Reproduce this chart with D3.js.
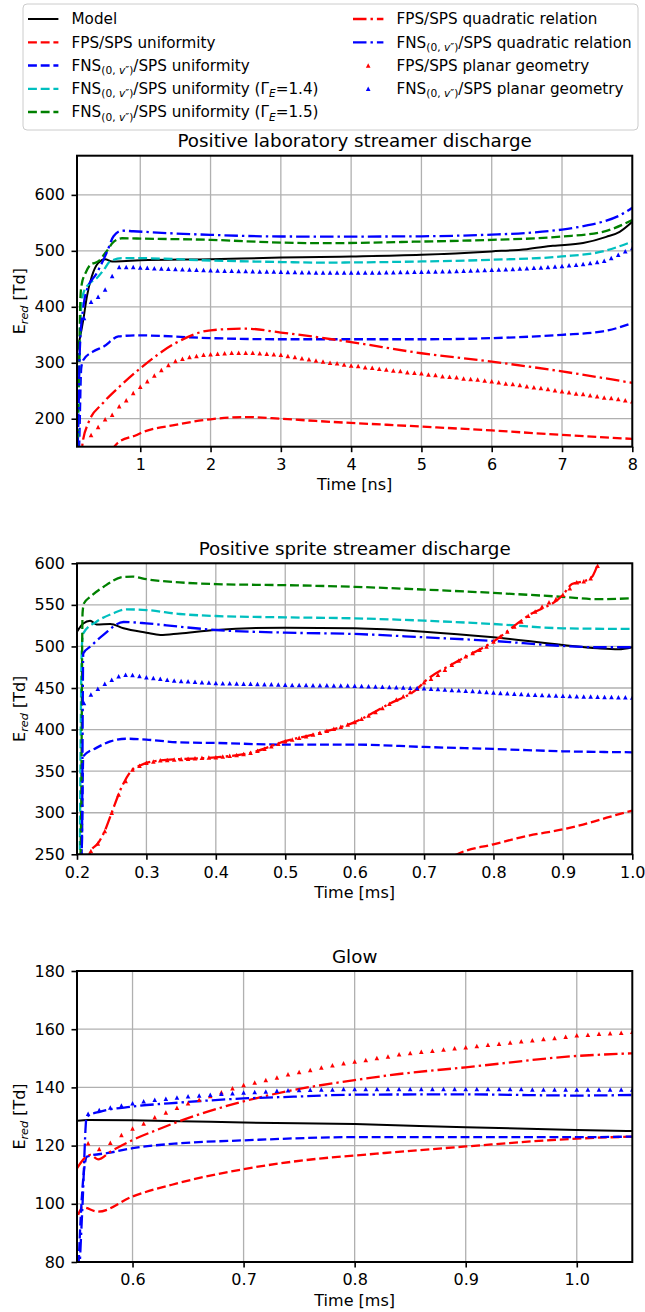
<!DOCTYPE html>
<html><head><meta charset="utf-8">
<script src="https://cdn.jsdelivr.net/npm/d3@7/dist/d3.min.js"></script>
<style>
body{margin:0;background:#fff}
svg{display:block}
text{font-family:"DejaVu Sans",sans-serif;white-space:pre}
</style>
</head><body>
<svg id="c" width="645" height="1312"></svg>
<script>
// ---------------- DATA ----------------
// Panel 1: Positive laboratory streamer discharge (time in ns, E_red in Td)
const lab_model = [[0.10,318],[0.15,350],[0.19,377],[0.24,418],[0.31,454],[0.40,478],[0.50,485],[0.60,481],[0.80,482],[1.0,483],[2.0,485],[3.0,488],[3.56,489],[4.0,490],[5.0,493],[6.0,499],[6.5,503],[6.87,509],[7.3,514],[7.63,525],[7.82,534],[8.0,552]];
const lab_fps_unif = [[0.60,145],[0.68,157],[0.95,171],[1.0,174],[1.5,189],[2.0,199],[2.5,203],[3.0,200],[3.5,196],[5.0,186],[6.0,179],[7.0,171],[8.0,164]];
const lab_fns_unif = [[0.10,100],[0.13,150],[0.16,290],[0.19,305],[0.33,320],[0.48,329],[0.69,347],[0.95,349],[2.0,344],[3.0,342],[5.0,342],[6.0,344],[7.0,350],[7.58,356],[8.0,371]];
const lab_g14 = [[0.11,120],[0.14,330],[0.16,400],[0.19,424],[0.29,443],[0.38,451],[0.48,466],[0.57,481],[0.74,487],[0.95,487],[2.0,482.7],[3.0,480],[3.56,479],[5.0,481],[6.0,484],[7.0,490],[7.58,499],[8.0,516.6]];
const lab_g15 = [[0.10,120],[0.13,300],[0.15,420],[0.17,442],[0.22,460],[0.29,475],[0.40,481],[0.52,499],[0.62,516],[0.74,522.5],[0.95,522],[2.0,519.6],[3.0,514.8],[3.56,513.7],[5.0,516.6],[6.0,519.6],[7.0,525.5],[7.58,534],[8.0,555]];
const lab_fps_quad = [[0.15,120],[0.18,157],[0.26,192],[0.47,228],[0.71,258],[1.0,290],[1.5,335],[2.0,358],[2.5,361],[3.0,354],[3.56,345],[4.0,337],[5.0,317],[6.0,302],[7.0,284.5],[8.0,264]];
const lab_fns_quad = [[0.10,100],[0.12,200],[0.14,323],[0.19,400],[0.24,430],[0.38,460],[0.52,496],[0.62,526],[0.74,536],[0.9,535],[1.5,531],[2.0,528.6],[3.0,525.6],[4.0,525.5],[5.0,526],[6.0,529],[6.5,532],[7.0,538],[7.3,544],[7.58,552],[7.8,562],[8.0,577]];
const lab_fps_planar_t0 = 0.3, lab_fps_planar_dt = 0.1;
const lab_fps_planar = [171,185,199,207,222,233,246,
 257,267,277,287,296,303,307,310,312,314,
 315,316,317,318,318,318,318,317,316,315,
 314,312,310,308,306,304,302,300,299,297,
 295,294,292,291,289,288,286,285,283,282,
 281,279,278,276,275,274,272,271,270,268,
 267,265,263,262,260,258,256,255,253,251,
 249,247,245,244,242,240,238,237,235,233,
 231];
const lab_fns_planar_t0 = 0.2, lab_fns_planar_dt = 0.1;
const lab_fns_planar = [380,409,418,431,455,471,471,471,
 470,469.5,469,468.5,468,467.5,467,466.5,466,465.5,
 465,464.8,464.5,464.3,464,463.8,463.5,463.2,463,462.8,
 462.5,462.3,462,461.8,461.5,461.3,461.2,461,461,461,
 461,461,461,461.2,461.4,461.6,461.8,462,462.2,462.4,
 462.5,462.8,463,463.3,463.6,464,464.3,464.7,465,465.5,
 466,466.5,467,467.6,468.2,468.9,469.6,470.3,471,472,
 473,474,475,476.5,478,480,482,487,493,499,
 505];

// Panel 2: Positive sprite streamer discharge (time in ms)
const spr_model = [[0.2,517.8],[0.209,527.7],[0.219,531],[0.228,526.5],[0.248,527],[0.267,521.8],[0.3,516.5],[0.32,513.8],[0.348,515.7],[0.4,519.8],[0.5,522.6],[0.6,521.8],[0.7,517.8],[0.8,511],[0.9,501.8],[0.95,497.8],[0.98,496.6],[1.0,499]];
const spr_fps_unif = [[0.745,249],[0.75,251],[0.8,262],[0.848,272],[0.9,280],[0.939,288],[0.963,294],[1.0,302.7]];
const spr_fns_unif = [[0.203,200],[0.207,260],[0.209,367.9],[0.228,378],[0.248,385.8],[0.271,389],[0.3,387.9],[0.348,384.6],[0.4,383.9],[0.5,381.9],[0.6,381.9],[0.7,379.1],[0.8,376.7],[0.9,373.9],[1.0,372.7]];
const spr_g14 = [[0.204,240],[0.207,500],[0.209,515.8],[0.228,529.7],[0.252,539.8],[0.271,544.6],[0.3,543.8],[0.348,539],[0.4,536.6],[0.5,535],[0.6,533.8],[0.7,531],[0.8,527],[0.9,521.8],[1.0,521]];
const spr_g15 = [[0.203,200],[0.206,300],[0.208,540],[0.21,551.8],[0.219,559.6],[0.238,571.6],[0.267,583.6],[0.28,584],[0.3,580.9],[0.348,577],[0.4,575],[0.5,573.7],[0.6,571.7],[0.7,568.4],[0.8,564.4],[0.9,559.6],[0.95,556.8],[1.0,558]];
const spr_fps_quad = [[0.21,230],[0.22,254],[0.23,263],[0.24,278],[0.25,300],[0.265,332],[0.28,352],[0.29,356.5],[0.3,360],[0.32,363],[0.35,364.5],[0.4,366.6],[0.45,372],[0.5,386],[0.55,396],[0.6,409],[0.65,431],[0.69,449],[0.7,457],[0.75,483],[0.8,506],[0.85,537],[0.9,562],[0.913,575],[0.932,579],[0.942,583.7],[0.951,599.7],[0.96,615]];
const spr_fns_quad = [[0.203,200],[0.207,260],[0.209,491.7],[0.219,499.7],[0.238,513.8],[0.267,529.4],[0.3,527.8],[0.348,523.7],[0.4,519.8],[0.5,516.6],[0.6,515],[0.7,511],[0.8,506.6],[0.9,500.6],[0.95,499],[1.0,499]];
const spr_fps_planar_t0 = 0.22, spr_fps_planar_dt = 0.01;
const spr_fps_planar = [254,263,278,300,322,338,352,356.5,360,
 361.5,363,363.5,364,364.5,365,365.5,366,366.3,366.6,
 367.5,368.5,369.5,370.5,372,374.5,377,380,383,386,
 388,390,392,394,396,398.5,401,403.5,406,409,
 413,417,421,426,431,436,440,445,449,457,
 461,466,472,478,483,488,492,496,500,506,
 512,518,524,530,537,542,548,553,557,562,
 570,577,578.5,582,597];
const spr_fns_planar_t0 = 0.21, spr_fns_planar_dt = 0.01;
const spr_fns_planar = [432,442,449,455,460,464,466,465.5,464.5,463,
 462,461,460,459,458.5,458,457.5,457,456.5,456,
 455.8,455.6,455.4,455.2,455,454.8,454.6,454.4,454.1,453.8,
 453.7,453.6,453.5,453.4,453.3,453.2,453.1,453.0,452.9,452.8,
 452.5,452.2,451.9,451.6,451.3,451,450.7,450.4,450,449.7,
 449.2,448.7,448.2,447.7,447.2,446.7,446.2,445.7,445.1,444.5,
 444,443.5,443,442.6,442.2,441.8,441.5,441.2,440.9,440.6,
 440.3,440,439.8,439.6,439.4,439.2,439,438.8,438.7,438.6];

// Panel 3: Glow (time in ms)
const glow_model = [[0.55,128.5],[0.56,128.8],[0.6,128.7],[0.643,128.4],[0.7,127.9],[0.8,127.4],[0.9,126.3],[1.0,125.4],[1.05,125.0]];
const glow_fps_unif = [[0.551,96.2],[0.555,98.8],[0.569,97.3],[0.6,102.5],[0.64,107],[0.7,111.9],[0.778,115.9],[0.8,116.6],[0.9,119.7],[1.0,122.4],[1.05,123.1]];
const glow_fns_unif = [[0.551,75],[0.554,100],[0.559,116.2],[0.58,117.6],[0.6,119.1],[0.643,120.8],[0.7,121.8],[0.8,122.9],[0.9,122.9],[1.0,122.9],[1.05,123.1]];
const glow_fps_quad = [[0.55,112.2],[0.562,116.8],[0.569,115.3],[0.58,117.9],[0.6,121.9],[0.622,125.4],[0.643,128.5],[0.7,135.2],[0.745,139.1],[0.8,142.5],[0.84,144.6],[0.9,146.9],[1.0,150.8],[1.05,151.7]];
const glow_fns_quad = [[0.552,75],[0.555,100],[0.5587,129.9],[0.571,131.7],[0.6,133.4],[0.643,134.8],[0.7,136.2],[0.745,136.8],[0.8,137.5],[0.9,137.6],[1.0,137.2],[1.05,137.4]];
const glow_planar_t0 = 0.56, glow_planar_dt = 0.01;
const glow_fps_planar = [120.8,118.8,121.0,123.6,125.9,127.6,129.7,131.4,133.0,134.5,
 135.7,137.0,138.3,139.7,140.8,141.7,142.5,143.4,144.5,145.3,
 146.0,146.8,147.6,148.3,148.9,149.4,150.1,150.6,151.4,151.8,
 152.2,152.6,153.0,153.4,153.8,154.2,154.6,155.0,155.4,155.8,
 156.2,156.6,157.0,157.4,157.9,158.1,158.4,158.6,158.8,159.1];
const glow_fns_planar = [130.9,132.2,133.1,133.8,134.5,135.2,135.7,136.1,136.5,136.9,
 137.2,137.5,137.8,138.0,138.2,138.4,138.6,138.8,139.0,139.1,
 139.2,139.3,139.3,139.4,139.4,139.4,139.4,139.4,139.4,139.4,
 139.4,139.4,139.4,139.4,139.4,139.4,139.4,139.4,139.4,139.4,
 139.3,139.3,139.3,139.3,139.3,139.3,139.3,139.3,139.3,139.3];

// ticks
const lab_xticks = [1,2,3,4,5,6,7,8];
const lab_yticks = [200,300,400,500,600];
const spr_xticks = [0.2,0.3,0.4,0.5,0.6,0.7,0.8,0.9,1.0];
const spr_yticks = [250,300,350,400,450,500,550,600];
const glow_xticks = [0.6,0.7,0.8,0.9,1.0];
const glow_yticks = [80,100,120,140,160,180];

// legend labels
const FNS = [{t:'FNS'},{t:'(0, ',sub:1},{t:'v',sub:1,it:1},{t:'\u2033)',sub:1}];
const legendLabels = {
  model:[{t:'Model'}],
  fpsU:[{t:'FPS/SPS uniformity'}],
  fnsU:[...FNS,{t:'/SPS uniformity'}],
  g14:[...FNS,{t:'/SPS uniformity ('},{t:'\u0393'},{t:'E',sub:1,it:1},{t:'=1.4)'}],
  g15:[...FNS,{t:'/SPS uniformity ('},{t:'\u0393'},{t:'E',sub:1,it:1},{t:'=1.5)'}],
  fpsQ:[{t:'FPS/SPS quadratic relation'}],
  fnsQ:[...FNS,{t:'/SPS quadratic relation'}],
  fpsP:[{t:'FPS/SPS planar geometry'}],
  fnsP:[...FNS,{t:'/SPS planar geometry'}]
};

// ---------------- STYLE ----------------
const DASH = '8.9,3.8', DASHDOT = '13.5,4,2.4,4';
const styles = {
  model:{c:'#000000', dash:null, w:2},
  fpsU:{c:'#ff0000', dash:DASH, w:2.3},
  fnsU:{c:'#0000ff', dash:DASH, w:2.3},
  g14:{c:'#00bfbf', dash:DASH, w:2.3},
  g15:{c:'#008000', dash:DASH, w:2.3},
  fpsQ:{c:'#ff0000', dash:DASHDOT, w:2.3},
  fnsQ:{c:'#0000ff', dash:DASHDOT, w:2.3},
  fpsP:{c:'#ff0000', marker:true},
  fnsP:{c:'#0000ff', marker:true}
};
const tri = 'M0,-2.3L2.3,2.2L-2.3,2.2Z';

function steps(t0, dt, n){ return Array.from({length:n},(_,i)=>+(t0+i*dt).toFixed(4)); }
function zipT(t0, dt, vals){ const ts = steps(t0, dt, vals.length); return vals.map((v,i)=>[ts[i], v]); }

function rich(sel, parts, fs){
  let off = 0;
  parts.forEach(p=>{
    const target = p.sub ? 0.22*fs : 0;
    const ts = sel.append('tspan').text(p.t);
    if (p.sub) ts.attr('font-size', (0.7*fs).toFixed(2));
    if (p.it) ts.attr('font-style','italic');
    const dy = target - off;
    if (dy !== 0) ts.attr('dy', dy.toFixed(2));
    off = target;
  });
}

const svg = d3.select('#c');
const L = 77, R = 632.3, H = 291;
const TICKFS = 16, TITLEFS = 18.3, LEGFS = 15.2;

const panels = [
  {id:'p1', top:155.7, xd:[0.1,8], yd:[150,670], xt:lab_xticks, yt:lab_yticks, xf:d3.format('d'),
   title:'Positive laboratory streamer discharge', xlabel:'Time [ns]',
   lines:[['model',lab_model],['fpsU',lab_fps_unif],['fnsU',lab_fns_unif],['g14',lab_g14],['g15',lab_g15],['fpsQ',lab_fps_quad],['fnsQ',lab_fns_quad]],
   marks:[['fpsP',zipT(lab_fps_planar_t0,lab_fps_planar_dt,lab_fps_planar)],['fnsP',zipT(lab_fns_planar_t0,lab_fns_planar_dt,lab_fns_planar)]]},
  {id:'p2', top:563.3, xd:[0.2,1.0], yd:[250,600], xt:spr_xticks, yt:spr_yticks, xf:d3.format('.1f'),
   title:'Positive sprite streamer discharge', xlabel:'Time [ms]',
   lines:[['model',spr_model],['fpsU',spr_fps_unif],['fnsU',spr_fns_unif],['g14',spr_g14],['g15',spr_g15],['fpsQ',spr_fps_quad],['fnsQ',spr_fns_quad]],
   marks:[['fpsP',zipT(spr_fps_planar_t0,spr_fps_planar_dt,spr_fps_planar)],['fnsP',zipT(spr_fns_planar_t0,spr_fns_planar_dt,spr_fns_planar)]]},
  {id:'p3', top:971, xd:[0.55,1.05], yd:[80,180], xt:glow_xticks, yt:glow_yticks, xf:d3.format('.1f'),
   title:'Glow', xlabel:'Time [ms]',
   lines:[['model',glow_model],['fpsU',glow_fps_unif],['fnsU',glow_fns_unif],['fpsQ',glow_fps_quad],['fnsQ',glow_fns_quad]],
   marks:[['fpsP',zipT(glow_planar_t0,glow_planar_dt,glow_fps_planar)],['fnsP',zipT(glow_planar_t0,glow_planar_dt,glow_fns_planar)]]}
];

const defs = svg.append('defs');

panels.forEach(p=>{
  const x = d3.scaleLinear().domain(p.xd).range([L,R]);
  const y = d3.scaleLinear().domain(p.yd).range([p.top+H, p.top]);
  const g = svg.append('g');
  defs.append('clipPath').attr('id','clip-'+p.id).append('rect')
    .attr('x',L).attr('y',p.top).attr('width',R-L).attr('height',H);

  // grid
  const grid = g.append('g').attr('stroke','#b0b0b0').attr('stroke-width',1.3);
  p.xt.forEach(t=>grid.append('line').attr('x1',x(t)).attr('x2',x(t)).attr('y1',p.top).attr('y2',p.top+H));
  p.yt.forEach(t=>grid.append('line').attr('x1',L).attr('x2',R).attr('y1',y(t)).attr('y2',y(t)));

  // lines
  const plot = g.append('g').attr('clip-path','url(#clip-'+p.id+')');
  const line = d3.line().x(d=>x(d[0])).y(d=>y(d[1])).curve(d3.curveMonotoneX);
  p.lines.forEach(([k,data])=>{
    const s = styles[k];
    plot.append('path').attr('d',line(data)).attr('fill','none')
      .attr('stroke',s.c).attr('stroke-width',s.w)
      .attr('stroke-dasharray',s.dash).attr('stroke-linejoin','round');
  });
  p.marks.forEach(([k,data])=>{
    const s = styles[k];
    plot.append('g').selectAll('path').data(data).join('path')
      .attr('d',tri).attr('fill',s.c)
      .attr('transform',d=>`translate(${x(d[0])},${y(d[1])})`);
  });

  // axes
  const xa = g.append('g').attr('transform',`translate(0,${p.top+H})`)
    .call(d3.axisBottom(x).tickValues(p.xt).tickFormat(p.xf).tickSize(5.5).tickPadding(6.5));
  const ya = g.append('g').attr('transform',`translate(${L},0)`)
    .call(d3.axisLeft(y).tickValues(p.yt).tickFormat(d3.format('d')).tickSize(5.5).tickPadding(6.5));
  [xa,ya].forEach(a=>{
    a.select('.domain').remove();
    a.selectAll('line').attr('stroke','#000').attr('stroke-width',1.6);
    a.selectAll('text').attr('font-size',TICKFS).attr('fill','#000').attr('font-family','DejaVu Sans');
  });

  // spines
  g.append('rect').attr('x',L).attr('y',p.top).attr('width',R-L).attr('height',H)
    .attr('fill','none').attr('stroke','#000').attr('stroke-width',2);

  // title & labels
  g.append('text').attr('x',(L+R)/2).attr('y',p.top-8.5).attr('text-anchor','middle')
    .attr('font-size',TITLEFS).text(p.title);
  g.append('text').attr('x',(L+R)/2).attr('y',p.top+H+43.5).attr('text-anchor','middle')
    .attr('font-size',TICKFS).text(p.xlabel);
  const yl = g.append('text').attr('text-anchor','middle').attr('font-size',TICKFS)
    .attr('transform',`translate(24.5,${p.top+H/2}) rotate(-90)`);
  rich(yl,[{t:'E'},{t:'red',sub:1,it:1},{t:' [Td]'}],TICKFS);
});

// ---------------- LEGEND ----------------
const leg = svg.append('g');
leg.append('rect').attr('x',23).attr('y',4).attr('width',615).attr('height',126).attr('rx',4)
  .attr('fill','#fff').attr('fill-opacity',0.8).attr('stroke','#cccccc').attr('stroke-width',1);
const legCols = [
  {hx:28, tx:71.5, items:['model','fpsU','fnsU','g14','g15']},
  {hx:353, tx:396.5, items:['fpsQ','fnsQ','fpsP','fnsP']}
];
const HL = 30.4;
const legRows = [19,42.3,65.5,88.8,112];
legCols.forEach(col=>{
  col.items.forEach((k,i)=>{
    const s = styles[k], yy = legRows[i];
    if (s.marker){
      leg.append('path').attr('d',tri).attr('fill',s.c).attr('transform',`translate(${col.hx+HL/2},${yy})`);
    } else {
      leg.append('line').attr('x1',col.hx).attr('x2',col.hx+HL).attr('y1',yy).attr('y2',yy)
        .attr('stroke',s.c).attr('stroke-width',s.w).attr('stroke-dasharray',s.dash);
    }
    const t = leg.append('text').attr('x',col.tx).attr('y',yy+5.3).attr('font-size',LEGFS);
    rich(t, legendLabels[k], LEGFS);
  });
});
</script>
</body></html>
